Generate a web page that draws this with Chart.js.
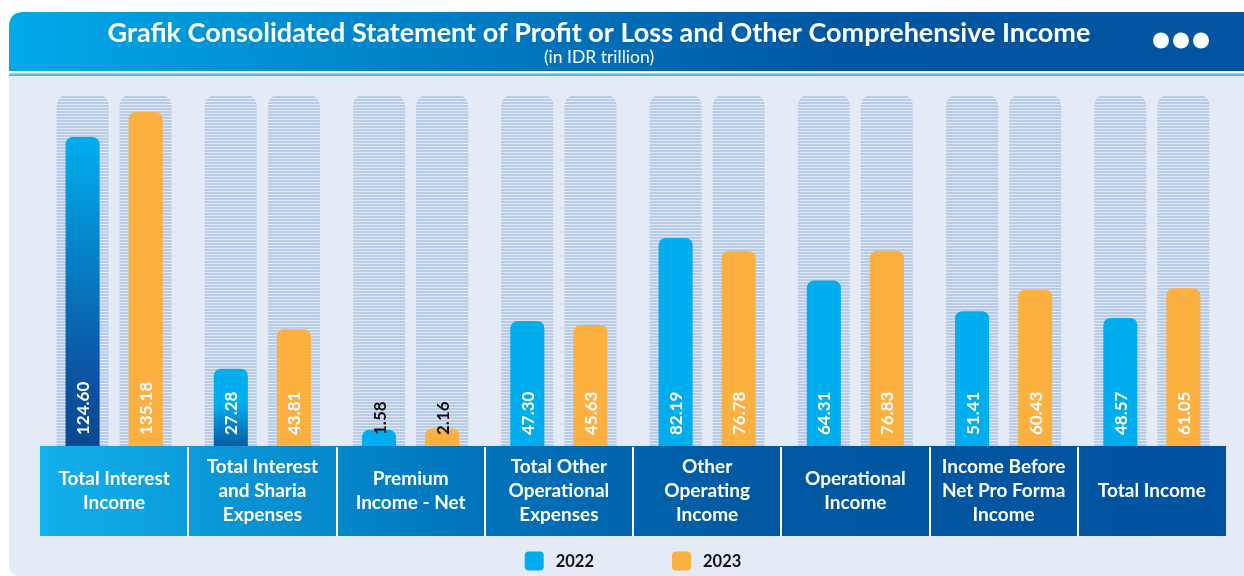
<!DOCTYPE html>
<html>
<head>
<meta charset="utf-8">
<title>Grafik Consolidated Statement of Profit or Loss and Other Comprehensive Income</title>
<script src="https://cdn.jsdelivr.net/npm/chart.js@4.4.1/dist/chart.umd.min.js"></script>
<style>
  html, body { margin: 0; padding: 0; background: #ffffff; }
  canvas { display: block; }
</style>
</head>
<body>
<canvas id="chart" width="1244" height="576"></canvas>
<script>
// ---- data (IDR trillion) ----
const categories = [
  ['Total Interest', 'Income'],
  ['Total Interest', 'and Sharia', 'Expenses'],
  ['Premium', 'Income - Net'],
  ['Total Other', 'Operational', 'Expenses'],
  ['Other', 'Operating', 'Income'],
  ['Operational', 'Income'],
  ['Income Before', 'Net Pro Forma', 'Income'],
  ['Total Income']
];
const values2022 = [124.60, 27.28, 1.58, 47.30, 82.19, 64.31, 51.41, 48.57];
const values2023 = [135.18, 43.81, 2.16, 45.63, 76.78, 76.83, 60.43, 61.05];
const seriesNames = ['2022', '2023'];
const titleText = 'Grafik Consolidated Statement of Profit or Loss and Other Comprehensive Income';
const subtitleText = '(in IDR trillion)';

// value axis range (bars rise from the bottom of the plot)
const VALUE_MIN = -5.2;
const VALUE_MAX = 142.3;

// ---- styles ----
const FONT = 'Lato, "Open Sans", sans-serif';
const CYAN = '#00aeef';
const ORANGE = '#fbb040';
const PANEL = '#e4eaf6';
const STRIPE_WIDTH = 52;
// a few 2022 bars fade from navy at the base into cyan
const barGradients2022 = {
  0: [[0, '#0a4792'], [0.25, '#0b56a2'], [1, '#00aeef']],
  1: [[0, '#0a5aa6'], [0.55, '#00aeef'], [1, '#00aeef']]
};

function roundRectPath(ctx, x, y, w, h, r) {
  const tl = r.tl || 0, tr = r.tr || 0, br = r.br || 0, bl = r.bl || 0;
  ctx.beginPath();
  ctx.moveTo(x + tl, y);
  ctx.lineTo(x + w - tr, y);
  ctx.quadraticCurveTo(x + w, y, x + w, y + tr);
  ctx.lineTo(x + w, y + h - br);
  ctx.quadraticCurveTo(x + w, y + h, x + w - br, y + h);
  ctx.lineTo(x + bl, y + h);
  ctx.quadraticCurveTo(x, y + h, x, y + h - bl);
  ctx.lineTo(x, y + tl);
  ctx.quadraticCurveTo(x, y, x + tl, y);
  ctx.closePath();
}

let stripeFill = null;
function stripePattern(ctx) {
  if (stripeFill) return stripeFill;
  const c = document.createElement('canvas');
  c.width = 4; c.height = 3;
  const g = c.getContext('2d');
  g.fillStyle = '#e0e8f5';
  g.fillRect(0, 0, 4, 3);
  g.fillStyle = '#b8cce9';
  g.fillRect(0, 0, 4, 2);
  stripeFill = ctx.createPattern(c, 'repeat');
  return stripeFill;
}

// panel, header strip and the category boxes under the plot
const framePlugin = {
  id: 'frame',
  beforeDraw(chart) {
    const ctx = chart.ctx;
    const W = chart.width, H = chart.height;
    ctx.save();
    ctx.fillStyle = '#ffffff';
    ctx.fillRect(0, 0, W, H);

    // panel body
    ctx.fillStyle = PANEL;
    roundRectPath(ctx, 9, 76, W - 9, H - 76, { bl: 12 });
    ctx.fill();

    // header strip
    const hg = ctx.createLinearGradient(9, 0, W, 0);
    hg.addColorStop(0, '#00a9e8');
    hg.addColorStop(0.4, '#0078bf');
    hg.addColorStop(0.68, '#0055a0');
    hg.addColorStop(1, '#0054a0');
    ctx.fillStyle = hg;
    roundRectPath(ctx, 9, 12, W - 9, 59, { tl: 15 });
    ctx.fill();
    ctx.fillStyle = '#55b3e6';
    ctx.fillRect(9, 73.5, W - 9, 2.5);

    // header text
    ctx.fillStyle = '#ffffff';
    ctx.textAlign = 'center';
    ctx.textBaseline = 'alphabetic';
    ctx.font = '700 27px ' + FONT;
    ctx.fillText(titleText, 599, 42);
    ctx.font = '400 17.5px ' + FONT;
    ctx.fillText(subtitleText, 599, 63);

    // three dots
    [1161, 1181, 1201].forEach(cx => {
      ctx.beginPath();
      ctx.arc(cx, 40.5, 8, 0, Math.PI * 2);
      ctx.fill();
    });

    // category boxes
    const xs = chart.scales.x;
    const top = chart.chartArea.bottom;
    const bottom = xs.bottom;
    const left = xs.left, right = xs.right;
    const bg = ctx.createLinearGradient(left, 0, right, 0);
    bg.addColorStop(0, '#12b0ec');
    bg.addColorStop(0.35, '#0076bd');
    bg.addColorStop(0.6, '#0058a2');
    bg.addColorStop(1, '#0052a0');
    ctx.fillStyle = bg;
    ctx.fillRect(left, top, right - left, bottom - top);
    ctx.strokeStyle = '#ffffff';
    ctx.lineWidth = 2;
    const step = (right - left) / categories.length;
    for (let k = 1; k < categories.length; k++) {
      const sx = Math.round(left + k * step);
      ctx.beginPath();
      ctx.moveTo(sx, top + 1);
      ctx.lineTo(sx, bottom);
      ctx.stroke();
    }
    ctx.restore();
  },
  // hatched columns behind every bar
  beforeDatasetsDraw(chart) {
    const ctx = chart.ctx;
    const area = chart.chartArea;
    ctx.save();
    ctx.fillStyle = stripePattern(ctx);
    chart.data.datasets.forEach((ds, di) => {
      chart.getDatasetMeta(di).data.forEach(el => {
        roundRectPath(ctx, el.x - STRIPE_WIDTH / 2, area.top, STRIPE_WIDTH, area.bottom - area.top, { tl: 12, tr: 12 });
        ctx.fill();
      });
    });
    ctx.restore();
  },
  // vertical value labels at the foot of each bar
  afterDatasetsDraw(chart) {
    const ctx = chart.ctx;
    ctx.save();
    ctx.font = '700 17px ' + FONT;
    ctx.textAlign = 'left';
    ctx.textBaseline = 'middle';
    chart.data.datasets.forEach((ds, di) => {
      chart.getDatasetMeta(di).data.forEach((el, i) => {
        const text = ds.data[i].toFixed(2);
        const tw = ctx.measureText(text).width;
        const barLen = el.base - el.y;
        ctx.fillStyle = (tw + 14 < barLen) ? '#ffffff' : '#111111';
        ctx.save();
        ctx.translate(el.x, el.base - 11);
        ctx.rotate(-Math.PI / 2);
        ctx.fillText(text, 0, 1);
        ctx.restore();
      });
    });
    ctx.restore();
  },
  // series key under the category boxes
  afterDraw(chart) {
    const ctx = chart.ctx;
    const area = chart.chartArea;
    const box = 19, gap = 12, spacing = 78;
    ctx.save();
    ctx.font = '700 16.5px ' + FONT;
    ctx.textBaseline = 'middle';
    ctx.textAlign = 'left';
    const items = chart.data.datasets.map(ds => ({ text: ds.label, color: ds.legendColor, w: ctx.measureText(ds.label).width }));
    const total = items.reduce((s, it) => s + box + gap + it.w, 0) + spacing * (items.length - 1);
    let x = (area.left + area.right) / 2 - total / 2;
    const cy = 561;
    items.forEach(it => {
      ctx.fillStyle = it.color;
      roundRectPath(ctx, x, cy - box / 2, box, box, { tl: 4, tr: 4, br: 4, bl: 4 });
      ctx.fill();
      ctx.fillStyle = '#111111';
      ctx.fillText(it.text, x + box + gap, cy + 1);
      x += box + gap + it.w + spacing;
    });
    ctx.restore();
  }
};

const ctx = document.getElementById('chart').getContext('2d');
new Chart(ctx, {
  type: 'bar',
  data: {
    labels: categories,
    datasets: [
      {
        label: seriesNames[0],
        data: values2022,
        legendColor: CYAN,
        backgroundColor: (c) => {
          const stops = barGradients2022[c.dataIndex];
          if (c.type !== 'data' || !stops || !c.chart.chartArea) return CYAN;
          const ys = c.chart.scales.y;
          const g = c.chart.ctx.createLinearGradient(0, ys.getPixelForValue(VALUE_MIN), 0, ys.getPixelForValue(c.raw));
          stops.forEach(([o, col]) => g.addColorStop(o, col));
          return g;
        }
      },
      {
        label: seriesNames[1],
        data: values2023,
        legendColor: ORANGE,
        backgroundColor: ORANGE
      }
    ]
  },
  options: {
    responsive: false,
    animation: false,
    events: [],
    datasets: {
      bar: {
        base: VALUE_MIN,
        categoryPercentage: 0.851,
        barPercentage: 0.54,
        borderRadius: 7,
        borderSkipped: 'start'
      }
    },
    layout: { padding: { top: 95, left: 40, right: 18, bottom: 40 } },
    plugins: {
      legend: { display: false },
      title: { display: false },
      tooltip: { enabled: false }
    },
    scales: {
      x: {
        grid: { display: false, drawTicks: false },
        border: { display: false },
        ticks: {
          color: '#ffffff',
          font: { family: FONT, size: 19, weight: '700', lineHeight: 24 / 19 },
          padding: 21,
          crossAlign: 'center',
          autoSkip: false,
          maxRotation: 0,
          minRotation: 0
        },
        afterFit(scale) { scale.height = 90; }
      },
      y: {
        display: false,
        min: VALUE_MIN,
        max: VALUE_MAX
      }
    }
  },
  plugins: [framePlugin]
});
</script>
</body>
</html>
